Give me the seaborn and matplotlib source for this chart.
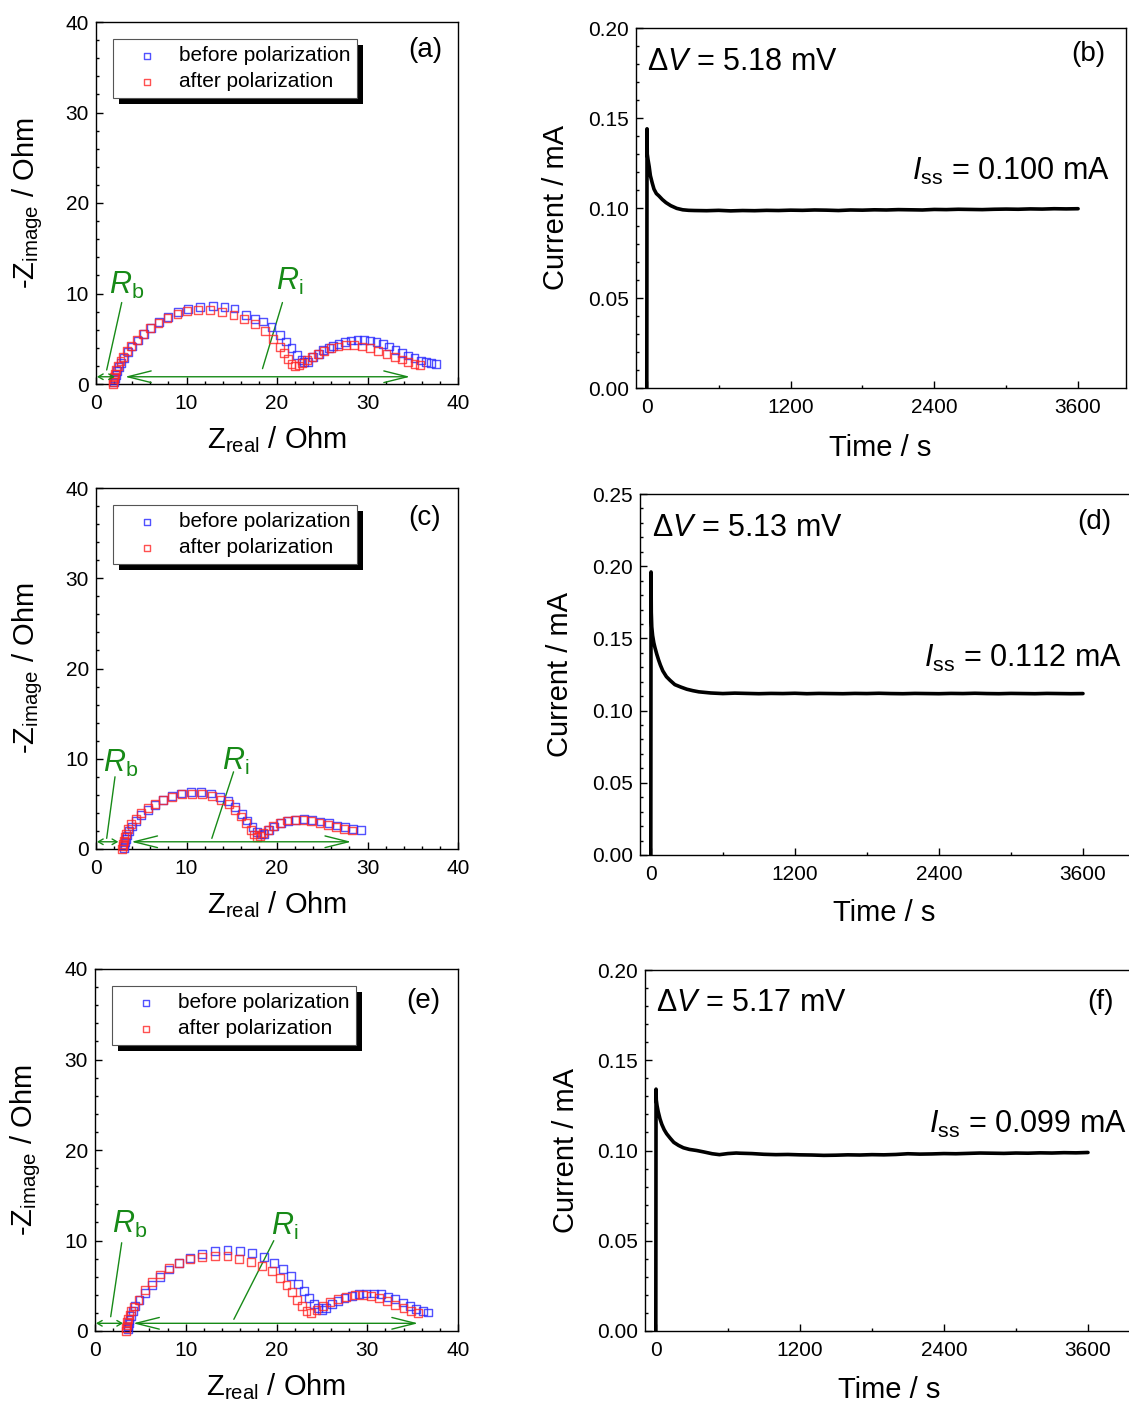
import numpy as np
import pandas as pd
import matplotlib
matplotlib.use('Agg')
import matplotlib.pyplot as plt
import seaborn as sns
from matplotlib.ticker import MultipleLocator, FormatStrFormatter
from matplotlib.patches import Rectangle
from matplotlib.transforms import IdentityTransform

# ---------------- data ----------------
# Nyquist (a)
a_before_x = [2.0,2.05,2.1,2.2,2.35,2.55,2.8,3.1,3.5,4.0,4.6,5.3,6.1,7.0,8.0,9.1,10.2,11.5,12.9,14.2,
              15.3,16.6,17.6,18.5,19.4,20.3,21.0,21.6,22.2,22.7,23.0,23.4,24.0,24.6,25.1,25.7,26.2,26.8,27.5,28.2,
              28.9,29.6,30.3,31.0,31.7,32.4,33.1,33.8,34.5,35.2,35.9,36.5,37.0,37.6]
a_before_y = [0.2,0.45,0.7,1.0,1.4,1.85,2.35,2.9,3.5,4.15,4.8,5.5,6.2,6.85,7.45,7.95,8.3,8.55,8.65,8.55,
              8.35,7.65,7.2,6.9,6.3,5.4,4.7,3.95,3.2,2.65,2.4,2.45,3.0,3.35,3.75,4.0,4.2,4.45,4.65,4.8,
              4.88,4.9,4.8,4.6,4.4,4.15,3.8,3.45,3.15,2.85,2.6,2.4,2.3,2.2]
a_after_x = [1.85,1.9,1.95,2.0,2.1,2.25,2.45,2.7,3.0,3.4,3.9,4.5,5.2,6.0,6.9,7.9,9.0,10.1,11.3,12.6,
             13.9,15.2,16.4,17.6,18.7,19.6,20.3,20.8,21.2,21.6,22.0,22.4,22.8,23.3,23.9,24.5,25.2,26.0,26.8,27.6,
             28.5,29.4,30.3,31.2,32.1,33.0,33.8,34.5,35.2,35.8]
a_after_y = [0.0,0.25,0.5,0.8,1.15,1.55,2.0,2.5,3.0,3.6,4.2,4.85,5.5,6.15,6.75,7.3,7.75,8.05,8.2,8.15,
             7.95,7.6,7.2,6.6,5.9,5.0,4.1,3.4,2.75,2.25,2.0,2.05,2.3,2.65,2.95,3.3,3.65,3.95,4.15,4.3,
             4.3,4.15,3.95,3.65,3.35,3.0,2.7,2.45,2.25,2.1]
# Nyquist (c)
c_before_x = [3.1,3.15,3.2,3.3,3.45,3.65,3.95,4.4,5.0,5.7,6.5,7.4,8.4,9.4,10.5,11.6,12.7,13.7,14.6,15.4,
              16.1,16.7,17.3,17.8,18.2,18.6,19.1,19.7,20.4,21.2,22.1,23.0,23.9,24.8,25.7,26.6,27.5,28.4,29.3]
c_before_y = [0.1,0.4,0.75,1.1,1.5,1.95,2.5,3.1,3.75,4.35,4.9,5.4,5.85,6.15,6.35,6.35,6.15,5.8,5.3,4.65,
              3.9,3.15,2.4,1.85,1.6,1.7,2.1,2.5,2.85,3.1,3.25,3.3,3.2,3.05,2.85,2.6,2.4,2.2,2.1]
c_after_x = [2.9,2.95,3.0,3.05,3.15,3.3,3.55,3.9,4.4,5.0,5.7,6.5,7.4,8.4,9.5,10.6,11.7,12.8,13.8,14.7,
             15.4,16.0,16.6,17.1,17.5,17.8,18.1,18.5,19.0,19.6,20.3,21.1,22.0,22.9,23.8,24.7,25.6,26.5,27.4,28.3]
c_after_y = [0.0,0.3,0.6,0.9,1.3,1.7,2.2,2.75,3.35,3.95,4.5,5.0,5.45,5.8,6.05,6.1,6.05,5.85,5.45,4.95,
             4.3,3.6,2.85,2.15,1.6,1.35,1.4,1.75,2.15,2.55,2.9,3.15,3.25,3.25,3.1,2.9,2.65,2.4,2.2,2.05]
# Nyquist (e)
e_before_x = [3.6,3.65,3.7,3.8,3.95,4.15,4.45,4.9,5.5,6.3,7.2,8.2,9.3,10.5,11.8,13.2,14.6,16.0,17.3,18.6,
              19.7,20.7,21.6,22.4,23.0,23.6,24.1,24.6,25.0,25.5,26.1,26.8,27.5,28.3,29.1,29.9,30.7,31.5,32.3,33.1,
              33.9,34.7,35.4,36.1,36.7]
e_before_y = [0.2,0.5,0.85,1.25,1.7,2.2,2.75,3.4,4.2,5.1,6.0,6.8,7.5,8.05,8.5,8.85,8.95,8.85,8.6,8.15,
              7.55,6.85,6.05,5.2,4.4,3.6,2.95,2.5,2.3,2.55,2.95,3.3,3.6,3.85,4.05,4.15,4.15,4.05,3.8,3.5,
              3.15,2.75,2.45,2.2,2.05]
e_after_x = [3.4,3.45,3.5,3.55,3.65,3.8,4.0,4.3,4.8,5.5,6.3,7.2,8.2,9.3,10.5,11.8,13.2,14.6,15.9,17.2,
             18.4,19.5,20.4,21.1,21.7,22.3,22.8,23.3,23.8,24.4,25.1,25.9,26.8,27.7,28.6,29.5,30.4,31.3,32.2,33.1,
             34.0,34.8,35.6]
e_after_y = [0.0,0.3,0.6,0.95,1.35,1.75,2.2,2.7,3.4,4.5,5.4,6.25,7.0,7.55,7.95,8.2,8.3,8.25,8.0,7.65,
             7.2,6.6,5.9,5.1,4.3,3.45,2.75,2.2,2.0,2.3,2.75,3.2,3.55,3.8,3.95,3.98,3.85,3.6,3.3,2.9,
             2.5,2.2,1.95]

# Chronoamperometry (b)
b_time = [0,2,4,10,20,30,45,60,80,100,130,160,200,250,300,350,400,500,600,700] + list(range(800, 3601, 100))
b_curr = [0,0.144,0.130,0.127,0.123,0.118,0.114,0.1105,0.108,0.1068,0.1047,0.103,0.1013,0.0998,0.099,0.0987,0.0986,0.0985,0.0987,0.0984,
          0.0986,0.0985,0.0987,0.0986,0.0988,0.0987,0.0989,0.0988,0.0986,0.0989,
          0.0988,0.0990,0.0989,0.0991,0.0990,0.0989,0.0992,0.0991,0.0993,0.0992,
          0.0991,0.0993,0.0994,0.0993,0.0995,0.0994,0.0996,0.0995,0.0996]
# (d)
d_time = [0,2,4,8,15,25,35,50,65,80,100,130,160,200,250,300,350,400,500] + list(range(600, 3601, 100))
d_curr = [0,0.196,0.168,0.158,0.152,0.147,0.1435,0.139,0.135,0.1315,0.1275,0.1235,0.121,0.118,0.1163,0.1148,0.1138,0.113,0.1122,
          0.1118,0.1121,0.1119,0.1117,0.1119,0.1118,0.1120,0.1117,0.1119,0.1118,
          0.1117,0.1119,0.1118,0.1120,0.1118,0.1117,0.1119,0.1118,0.1117,0.1119,
          0.1118,0.1120,0.1118,0.1117,0.1119,0.1118,0.1117,0.1119,0.1118,0.1117,0.1118]
# (f)
f_time = [0,2,4,10,20,35,50,70,90,120,150,190,230,280,340,400,470,530,600,670] + list(range(700, 3601, 100))
f_curr = [0,0.134,0.128,0.125,0.1215,0.1175,0.1145,0.1115,0.1093,0.1068,0.1045,0.1028,0.1015,0.1006,0.100,0.0992,0.0982,0.0977,0.0983,0.0986,
          0.0985,0.0983,0.0979,0.0977,0.0978,0.0976,0.0975,0.0973,0.0974,0.0976,
          0.0975,0.0977,0.0976,0.0978,0.0982,0.0980,0.0981,0.0983,0.0982,0.0984,
          0.0986,0.0985,0.0984,0.0986,0.0985,0.0987,0.0986,0.0988,0.0987,0.0989]

panel_labels = ['(a)', '(b)', '(c)', '(d)', '(e)', '(f)']
delta_v = ['5.18', '5.13', '5.17']
i_ss = ['0.100', '0.112', '0.099']
legend_labels = ['before polarization', 'after polarization']

# ---------------- style ----------------
sns.set_style('ticks')
plt.rcParams['font.family'] = ['Liberation Sans', 'DejaVu Sans']
plt.rcParams['mathtext.fontset'] = 'custom'
plt.rcParams['mathtext.rm'] = 'Liberation Sans'
plt.rcParams['mathtext.it'] = 'Liberation Sans:italic'
plt.rcParams['mathtext.bf'] = 'Liberation Sans:bold'
plt.rcParams['axes.unicode_minus'] = False
for key in ['text.color', 'axes.labelcolor', 'xtick.color', 'ytick.color',
            'xtick.labelcolor', 'ytick.labelcolor', 'axes.edgecolor']:
    plt.rcParams[key] = 'black'

GREEN = '#178a17'
BLUE = (0.15, 0.15, 1.0, 0.8)
RED = (1.0, 0.15, 0.15, 0.8)

W, H = 1129, 1405
fig = plt.figure(figsize=(W / 100, H / 100), dpi=100)

def px_axes(l, t, r, b):
    return fig.add_axes([l / W, 1 - b / H, (r - l) / W, (b - t) / H])

def style_axes(ax):
    for s in ax.spines.values():
        s.set_linewidth(1.0)
        s.set_color('black')
    ax.tick_params(which='both', direction='in', top=False, right=False, colors='black', width=1.0)
    ax.tick_params(which='major', length=5)
    ax.tick_params(which='minor', length=2.5)
    ax.tick_params(axis='x', which='major', pad=7, labelsize=15)
    ax.tick_params(axis='y', which='major', pad=5, labelsize=15)

def nyquist(ax, xb, yb, xa, ya, lab, rb_txt, rb_line, ri_txt, ri_line, small_arrow, long_arrow, arr_y, lab_pos):
    sns.scatterplot(x=xb, y=yb, ax=ax, marker='s', s=32, facecolors='none', edgecolors=[BLUE],
                    linewidths=1.0, label=legend_labels[0], clip_on=False, zorder=3)
    sns.scatterplot(x=xa, y=ya, ax=ax, marker='s', s=32, facecolors='none', edgecolors=[RED],
                    linewidths=1.0, label=legend_labels[1], clip_on=False, zorder=3)
    ax.set_xlim(0, 40)
    ax.set_ylim(0, 40)
    ax.xaxis.set_major_locator(MultipleLocator(10))
    ax.xaxis.set_minor_locator(MultipleLocator(2))
    ax.yaxis.set_major_locator(MultipleLocator(10))
    ax.yaxis.set_minor_locator(MultipleLocator(2))
    style_axes(ax)
    ax.set_xlabel('Z$_{\\mathrm{real}}$ / Ohm', fontsize=21, va='baseline')
    ax.set_ylabel('-Z$_{\\mathrm{image}}$ / Ohm', fontsize=21, va='baseline')
    ax.xaxis.set_label_coords(0.5, -0.177)
    ax.yaxis.set_label_coords(-0.172, 0.5)
    leg = ax.legend(loc='upper left', bbox_to_anchor=(0.047, 0.953), borderaxespad=0,
                    fontsize=15, frameon=True, fancybox=False, framealpha=1,
                    edgecolor='#555555', borderpad=0.35, labelspacing=0.33,
                    handlelength=2.6, handletextpad=0.2, markerscale=0.75)
    leg.get_frame().set_linewidth(0.8)
    leg.set_zorder(6)
    for txt in leg.get_texts():
        txt.set_color('black')
    ax.text(lab_pos[0], lab_pos[1], lab, transform=ax.transAxes, fontsize=20,
            ha='center', va='center')
    # annotations
    ax.text(rb_txt[0], rb_txt[1], '$\\mathit{R}_{\\mathrm{b}}$', color=GREEN, fontsize=22,
            ha='left', va='baseline')
    ax.text(ri_txt[0], ri_txt[1], '$\\mathit{R}_{\\mathrm{i}}$', color=GREEN, fontsize=22,
            ha='left', va='baseline')
    ax.plot([rb_line[0], rb_line[2]], [rb_line[1], rb_line[3]], color=GREEN, lw=1.0)
    ax.plot([ri_line[0], ri_line[2]], [ri_line[1], ri_line[3]], color=GREEN, lw=1.0)
    ax.annotate('', xy=(small_arrow[1], arr_y), xytext=(small_arrow[0], arr_y),
                arrowprops=dict(arrowstyle='<->,head_length=0.35,head_width=0.2', color=GREEN, lw=1.0,
                                shrinkA=0, shrinkB=0, mutation_scale=10))
    ax.annotate('', xy=(long_arrow[1], arr_y), xytext=(long_arrow[0], arr_y),
                arrowprops=dict(arrowstyle='<->,head_length=1.4,head_width=0.35', color=GREEN, lw=1.0,
                                shrinkA=0, shrinkB=0, mutation_scale=12))
    return leg

def chrono(ax, t, cur, ymax, lab, lab_pos, dv, dv_pos, iss, iss_pos, xl_y, yl_x):
    sns.lineplot(x=t, y=cur, ax=ax, color='black', linewidth=2.6, estimator=None, sort=False)
    ax.set_xlim(-90, 4000)
    ax.set_ylim(0, ymax)
    ax.xaxis.set_major_locator(MultipleLocator(1200))
    ax.xaxis.set_minor_locator(MultipleLocator(600))
    ax.yaxis.set_major_locator(MultipleLocator(0.05))
    ax.yaxis.set_minor_locator(MultipleLocator(0.01))
    ax.yaxis.set_major_formatter(FormatStrFormatter('%.2f'))
    style_axes(ax)
    ax.set_xlabel('Time / s', fontsize=21, va='baseline')
    ax.set_ylabel('Current / mA', fontsize=21, va='baseline')
    ax.xaxis.set_label_coords(0.498, xl_y)
    ax.yaxis.set_label_coords(yl_x, 0.5)
    ax.text(lab_pos[0], lab_pos[1], lab, transform=ax.transAxes, fontsize=20, ha='center', va='center')
    ax.text(dv_pos[0], dv_pos[1], '$\\mathit{ΔV}$ = ' + dv + ' mV', transform=ax.transAxes,
            fontsize=22, ha='left', va='center')
    ax.text(iss_pos[0], iss_pos[1], '$\\mathit{I}_{\\mathrm{ss}}$ = ' + iss + ' mA', transform=ax.transAxes,
            fontsize=22, ha='right', va='baseline')

ax_a = px_axes(96, 22, 458, 384)
ax_b = px_axes(636, 28, 1126, 388)
ax_c = px_axes(96, 488, 458, 849)
ax_d = px_axes(640, 494, 1131, 855)
ax_e = px_axes(95, 969, 458, 1331)
ax_f = px_axes(645, 970, 1136, 1331)

legs = []
legs.append(nyquist(ax_a, a_before_x, a_before_y, a_after_x, a_after_y, panel_labels[0],
                    (1.45, 10.0), (2.84, 9.0, 1.18, 1.55), (19.9, 10.4), (20.6, 9.0, 18.4, 1.7),
                    (0.1, 2.1), (3.2, 34.7), 0.8, (0.909, 0.923)))
legs.append(nyquist(ax_c, c_before_x, c_before_y, c_after_x, c_after_y, panel_labels[2],
                    (0.75, 8.5), (2.1, 8.0, 1.18, 1.18), (13.9, 8.75), (15.2, 8.55, 12.8, 1.18),
                    (0.1, 2.47), (3.9, 28.2), 0.8, (0.909, 0.917)))
legs.append(nyquist(ax_e, e_before_x, e_before_y, e_after_x, e_after_y, panel_labels[4],
                    (1.9, 10.8), (2.94, 9.75, 1.73, 1.58), (19.4, 10.6), (19.7, 9.98, 15.3, 1.29),
                    (0.1, 3.1), (4.2, 35.6), 0.85, (0.904, 0.912)))

chrono(ax_b, b_time, b_curr, 0.20, panel_labels[1], (0.923, 0.928), delta_v[0], (0.022, 0.906),
       i_ss[0], (0.968, 0.578), -0.189, -0.147)
chrono(ax_d, d_time, d_curr, 0.25, panel_labels[3], (0.925, 0.922), delta_v[1], (0.024, 0.906),
       i_ss[1], (0.981, 0.522), -0.183, -0.1466)
chrono(ax_f, f_time, f_curr, 0.20, panel_labels[5], (0.927, 0.911), delta_v[2], (0.022, 0.909),
       i_ss[2], (0.981, 0.548), -0.186, -0.1446)

# legend shadows (solid black, offset down-right)
fig.canvas.draw()
renderer = fig.canvas.get_renderer()
for ax, leg in zip([ax_a, ax_c, ax_e], legs):
    bb = leg.get_frame().get_window_extent(renderer)
    rect = Rectangle((bb.x0 + 6, bb.y0 - 6), bb.width, bb.height, transform=IdentityTransform(),
                     facecolor='black', edgecolor='none', zorder=5.9, clip_on=False)
    ax.add_artist(rect)

fig.savefig('out.png', dpi=100)
